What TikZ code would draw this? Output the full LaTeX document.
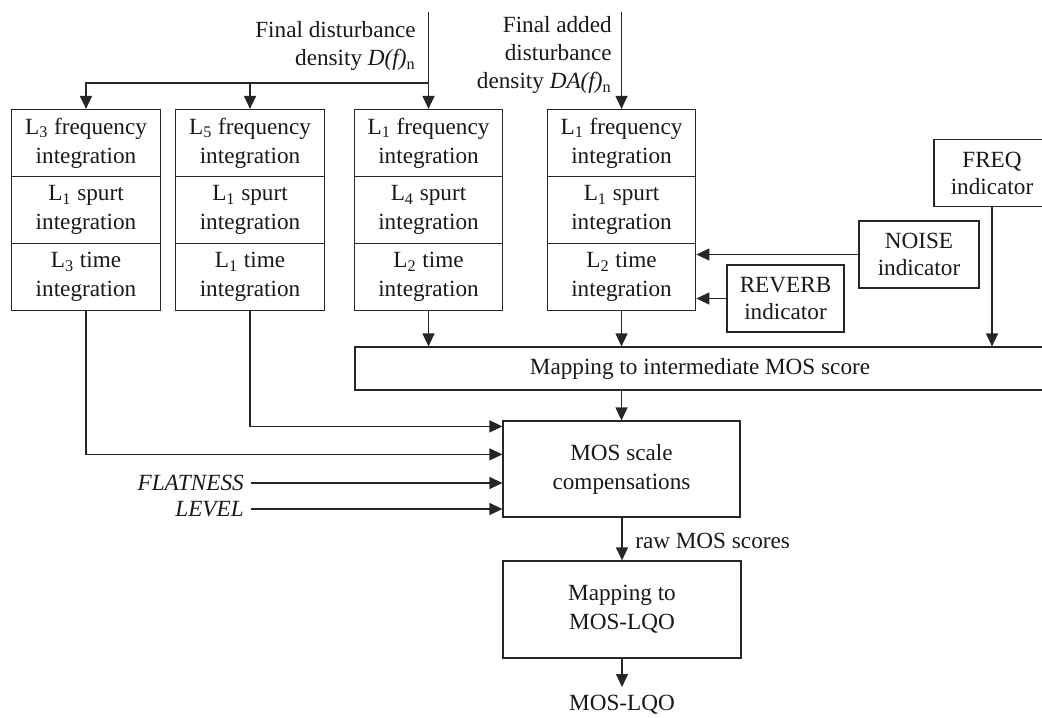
\documentclass[tikz,border=0pt]{standalone}
\usepackage{fontspec}
\setmainfont{Liberation Serif}
\usetikzlibrary{arrows.meta}
\begin{document}
\begin{tikzpicture}[x=0.5pt,y=-0.5pt,
  line width=0.6pt, draw=black!85,
  every node/.style={font=\fontsize{11.6}{14.5}\selectfont, text=black!90},
  arr/.style={-{Triangle[length=6.5pt,width=6pt]}},
  cell/.style={draw, minimum width=74.25pt, minimum height=33.5pt, inner sep=0pt, align=center},
  ind/.style={draw, minimum height=33.5pt, inner sep=0pt, align=center, font=\fontsize{11.6}{13.5}\selectfont},
  wide/.style={draw, inner sep=0pt, align=center},
  lbl/.style={align=right, anchor=east, font=\fontsize{11.6}{14}\selectfont},
]
\useasboundingbox (0,0) rectangle (1042,717);

% integration columns
\node[cell] (c1a) at (86,143) {L\textsubscript{3} frequency\\integration};
\node[cell] (c1b) at (86,210) {L\textsubscript{1} spurt\\integration};
\node[cell] (c1c) at (86,277) {L\textsubscript{3} time\\integration};

\node[cell] (c2a) at (250,143) {L\textsubscript{5} frequency\\integration};
\node[cell] (c2b) at (250,210) {L\textsubscript{1} spurt\\integration};
\node[cell] (c2c) at (250,277) {L\textsubscript{1} time\\integration};

\node[cell] (c3a) at (428.5,143) {L\textsubscript{1} frequency\\integration};
\node[cell] (c3b) at (428.5,210) {L\textsubscript{4} spurt\\integration};
\node[cell] (c3c) at (428.5,277) {L\textsubscript{2} time\\integration};

\node[cell] (c4a) at (621.5,143) {L\textsubscript{1} frequency\\integration};
\node[cell] (c4b) at (621.5,210) {L\textsubscript{1} spurt\\integration};
\node[cell] (c4c) at (621.5,277) {L\textsubscript{2} time\\integration};

% input labels
\node[lbl] (dlab) at (423,46) {Final disturbance\\density \textit{D(f)}\textsubscript{n}};
\node[lbl] (dalab) at (619,55) {Final added\\disturbance\\density \textit{DA(f)}\textsubscript{n}};

\coordinate (dtop) at (428.5,12);
\coordinate (datop) at (621.5,12);
\coordinate (dsplit) at (428.5,83);

\draw[arr] (dtop) -- (c3a.north);
\draw[arr] (dsplit) -| (c1a.north);
\draw[arr] (dsplit -| c2a.north) -- (c2a.north);
\draw[arr] (datop) -- (c4a.north);

% indicators
\node[ind, minimum width=58pt] (freq) at (992,173) {FREQ\\indicator};
\node[ind, minimum width=60pt] (noise) at (919,254.5) {NOISE\\indicator};
\node[ind, minimum width=58.5pt] (reverb) at (785.5,298.5) {REVERB\\indicator};

% intermediate mapping
\node[wide, minimum width=345pt, minimum height=21.5pt] (map) at (700,368.5) {Mapping to intermediate MOS score};

\draw[arr] (noise.west) -- (noise.west -| c4c.east);
\draw[arr] (reverb.west) -- (reverb.west -| c4c.east);
\draw[arr] (freq.south) -- (freq.south |- map.north);
\draw[arr] (c3c.south) -- (c3c.south |- map.north);
\draw[arr] (c4c.south) -- (c4c.south |- map.north);

% MOS scale compensation
\node[wide, minimum width=118.5pt, minimum height=48pt] (mos) at (621.5,469) {MOS scale\\compensations};
\draw[arr] (map.south -| mos.north) -- (mos.north);
\draw[arr] (c2c.south) |- ([yshift=-3pt]mos.north west);
\draw[arr] (c1c.south) |- ([yshift=-17pt]mos.north west);

\node[anchor=east] (flat) at (251,483) {\textit{FLATNESS}};
\node[anchor=east] (level) at (251,509) {\textit{LEVEL}};
\draw[arr] (flat.east) -- (flat.east -| mos.west);
\draw[arr] (level.east) -- (level.east -| mos.west);

% final mapping
\node[wide, minimum width=119pt, minimum height=48.5pt] (lqo) at (622,609.5) {Mapping to\\MOS-LQO};
\draw[arr] (mos.south -| lqo.north) -- (lqo.north);
\node[anchor=west] (raw) at (628,541) {raw MOS scores};

\node[anchor=north, inner ysep=4pt] (out) at (622,687) {MOS-LQO};
\draw[arr] (lqo.south) -- (out.north);
\end{tikzpicture}
\end{document}
